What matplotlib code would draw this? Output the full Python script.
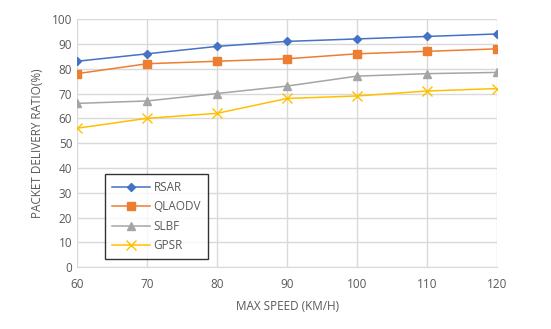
import matplotlib
matplotlib.use("Agg")
import matplotlib.pyplot as plt

speeds = [60, 70, 80, 90, 100, 110, 120]
rsar = [83, 86, 89, 91, 92, 93, 94]
qlaodv = [78, 82, 83, 84, 86, 87, 88]
slbf = [66, 67, 70, 73, 77, 78, 78.5]
gpsr = [56, 60, 62, 68, 69, 71, 72]

plt.rcParams['font.family'] = ['Open Sans', 'DejaVu Sans']
text_color = "#595959"

fig = plt.figure(figsize=(5.51, 3.29), dpi=100)
ax = fig.add_axes([0.14, 0.188, 0.762, 0.754])

ax.plot(speeds, rsar, color="#4472C4", marker="D", markersize=4.5, lw=1.1, label="RSAR")
ax.plot(speeds, qlaodv, color="#ED7D31", marker="s", markersize=5.5, lw=1.1, label="QLAODV")
ax.plot(speeds, slbf, color="#A5A5A5", marker="^", markersize=6, lw=1.1, label="SLBF")
ax.plot(speeds, gpsr, color="#FFC000", marker="x", markersize=7, mew=1.0, lw=1.1, label="GPSR")

ax.set_xlim(60, 120)
ax.set_ylim(0, 100)
ax.set_xticks(speeds)
ax.set_yticks(range(0, 101, 10))
ax.grid(True, color="#D9D9D9", lw=1)
ax.set_axisbelow(True)
for s in ax.spines.values():
    s.set_visible(False)
ax.spines['bottom'].set_visible(True)
ax.spines['bottom'].set_color("#D9D9D9")
ax.tick_params(length=0, colors=text_color, labelsize=8.5)
ax.tick_params(axis='x', pad=8)

ax.set_xlabel("MAX SPEED (KM/H)", color=text_color, fontsize=8.5, labelpad=6)
ax.set_ylabel("PACKET DELIVERY RATIO(%)", color=text_color, fontsize=8.5, labelpad=6)

leg = ax.legend(loc="lower left", bbox_to_anchor=(0.067, 0.032), borderaxespad=0,
                frameon=True, fancybox=False, edgecolor="black", fontsize=8.5,
                handlelength=3.2, labelspacing=0.55, borderpad=0.6, handletextpad=0.3)
leg.get_frame().set_linewidth(1)
for t in leg.get_texts():
    t.set_color(text_color)

plt.savefig("out.png", dpi=100)
